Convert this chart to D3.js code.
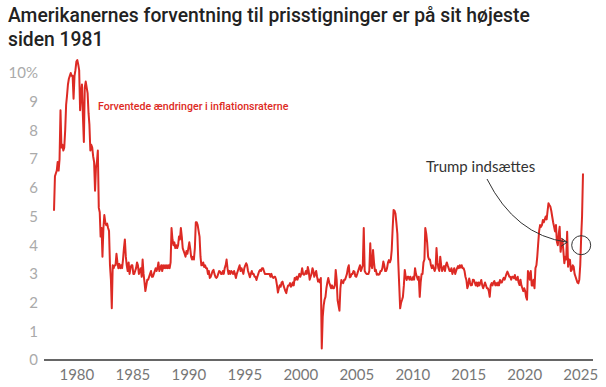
<!DOCTYPE html>
<html>
<head>
<meta charset="utf-8">
<script src="https://cdn.jsdelivr.net/npm/d3@7"></script>
<style>
  body { margin: 0; background: #fff; }
  svg { display: block; }
  .title { font-family: Roboto, sans-serif; font-weight: 500; font-size: 19.3px; fill: #222; }
  .ylab text { font-family: Lato, sans-serif; font-size: 15px; fill: #aaa; }
  .xlab text { font-family: Lato, sans-serif; font-size: 15px; fill: #777; }
</style>
</head>
<body>
<div id="main"></div>
<script>
// Forventet inflation (1 år frem), månedlige værdier fra jan. 1978
const START = new Date(1978, 0, 1);

const v1970s = [
    5.2, 6.4, 6.5, 6.6, 6.9, 6.6, 7.0, 8.7, 7.4, 7.5, 7.3, 7.4,
    8.0, 8.9, 9.2, 9.6, 9.8, 9.9, 10.0, 9.9, 9.9, 9.1, 9.9, 10.1
];
const v1980s = [
    10.4, 10.45, 10.3, 10.1, 8.7, 9.3, 9.6, 8.5, 7.6, 9.5, 9.7, 9.5,
    9.3, 8.6, 8.2, 7.3, 7.5, 7.4, 7.1, 6.9, 5.9, 6.7, 6.9, 7.3,
    5.3, 5.15, 4.3, 4.6, 3.6, 4.6, 5.05, 4.8, 4.7, 4.75, 4.6, 4.5,
    3.3, 2.8, 1.8, 3.3, 3.2, 3.3, 3.3, 3.7, 3.4, 3.2, 3.35, 3.2,
    3.3, 3.2, 3.5, 3.9, 4.2, 3.6, 3.3, 3.1, 3.4, 3.0, 3.2, 3.3,
    3.3, 3.0, 3.0, 3.1, 3.2, 3.4, 3.3, 3.0, 3.1, 3.2, 2.9, 3.5,
    3.0, 2.7, 2.4, 2.6, 2.8, 2.8, 2.9, 3.0, 3.1, 2.9, 2.9, 3.0,
    3.1, 3.2, 3.1, 3.2, 3.4, 3.1, 3.2, 3.3, 3.1, 3.3, 3.2, 3.3,
    3.2, 3.3, 3.2, 3.3, 3.2, 3.4, 4.6, 4.2, 4.0, 4.1, 3.9, 4.0,
    3.9, 4.0, 4.3, 4.2, 4.6, 4.3, 3.9, 3.8, 3.7, 3.6, 3.8, 3.7
];
const v1990s = [
    3.9, 4.1, 3.9, 3.6, 3.5, 3.6, 3.5, 3.9, 4.8, 4.8, 4.7, 4.5,
    4.3, 3.6, 3.3, 3.3, 3.4, 3.24, 3.3, 3.2, 3.2, 3.0, 3.1, 2.86,
    2.9, 3.0, 3.1, 3.14, 3.0, 2.9, 2.86, 2.9, 3.0, 3.1, 3.08, 3.0,
    3.0, 3.1, 3.0, 3.2, 3.3, 3.5, 3.2, 3.0, 3.1, 3.0, 3.1, 3.06,
    3.0, 3.1, 3.0, 2.86, 3.0, 3.1, 3.2, 3.3, 3.1, 3.2, 3.1, 3.0,
    3.2, 3.3, 3.37, 3.3, 3.1, 3.0, 2.88, 3.0, 3.1, 3.0, 3.0, 2.9,
    2.9, 2.79, 2.9, 3.0, 3.1, 3.14, 3.1, 3.2, 3.2, 3.1, 3.0, 3.0,
    3.0, 3.0, 3.0, 3.0, 2.9, 3.0, 2.9, 2.86, 2.9, 2.9, 2.8, 2.6,
    2.35, 2.5, 2.6, 2.55, 2.7, 2.73, 2.6, 2.5, 2.4, 2.33, 2.5, 2.6,
    2.6, 2.68, 2.55, 2.6, 2.7, 2.6, 2.86, 2.8, 2.9, 2.8, 2.9, 3.0
];
const v2000s = [
    2.9, 3.0, 3.2, 3.0, 2.97, 3.0, 3.1, 3.0, 3.24, 3.1, 2.8, 2.9,
    3.0, 3.2, 3.1, 2.9, 3.0, 3.1, 2.9, 2.73, 2.8, 2.7, 2.86, 0.4,
    1.5, 1.9, 2.1, 2.2, 2.5, 2.7, 2.86, 2.7, 2.6, 2.5, 2.6, 2.5,
    2.5, 2.6, 3.14, 2.8, 2.09, 1.9, 1.72, 2.5, 2.79, 2.7, 2.68, 2.8,
    2.8, 2.9, 3.0, 3.2, 3.3, 2.88, 2.9, 3.0, 3.0, 3.1, 3.08, 2.92,
    2.9, 3.0, 3.1, 3.2, 3.3, 3.1, 3.2, 3.3, 4.6, 3.1, 3.04, 3.0,
    3.0, 3.0, 3.1, 4.07, 3.3, 3.2, 3.83, 3.4, 3.1, 3.14, 2.97, 3.0,
    2.97, 3.0, 3.1, 3.1, 3.2, 3.43, 3.3, 3.1, 3.1, 3.2, 3.4, 3.48,
    3.4, 3.5, 3.83, 4.6, 5.23, 5.2, 5.1, 4.77, 4.4, 3.4, 2.6, 1.8,
    2.0, 2.1, 2.2, 2.6, 3.14, 2.9, 2.79, 2.9, 2.9, 2.8, 2.9, 2.8
];
const v2010s = [
    2.8, 2.9, 2.8, 3.2, 3.0, 2.9, 2.8, 2.9, 2.2, 2.7, 3.0, 3.0,
    3.4, 3.5, 4.6, 4.4, 4.1, 3.6, 3.5, 3.5, 3.3, 3.2, 3.3, 3.2,
    3.1, 3.2, 3.9, 3.4, 3.2, 3.1, 3.6, 3.3, 3.1, 3.2, 3.27, 3.1,
    3.3, 3.4, 3.3, 3.2, 3.1, 3.1, 3.2, 3.0, 3.1, 3.2, 3.0, 3.1,
    3.2, 3.27, 3.2, 3.3, 3.22, 3.3, 3.2, 3.2, 3.1, 2.9, 2.79, 2.5,
    2.6, 2.84, 2.7, 2.6, 2.61, 2.8, 2.79, 2.7, 2.6, 2.7, 2.57, 2.7,
    2.6, 2.7, 2.79, 2.6, 2.5, 2.6, 2.7, 2.6, 2.5, 2.5, 2.4, 2.2,
    2.6, 2.68, 2.6, 2.7, 2.75, 2.6, 2.68, 2.6, 2.7, 2.6, 2.79, 2.7,
    2.7, 2.8, 2.86, 2.8, 2.9, 3.0, 3.08, 3.0, 2.9, 2.9, 2.8, 2.9,
    2.9, 2.85, 2.96, 2.8, 2.8, 2.9, 2.7, 2.61, 2.8, 2.6, 2.5, 2.4
];
const v2020s = [
    2.5, 2.4, 2.2, 2.1, 3.1, 3.0, 2.8, 3.1, 2.6, 2.6, 2.8, 2.5,
    3.2, 3.3, 3.6, 4.07, 4.5, 4.7, 4.64, 4.7, 4.88, 4.8, 4.9, 5.0,
    4.9, 5.2, 5.46, 5.4, 5.35, 5.2, 5.0, 4.8, 4.64, 4.48, 4.7, 4.12,
    4.0, 4.4, 4.64, 3.77, 4.0, 4.2, 3.8, 3.37, 3.6, 3.5, 4.47, 3.25,
    3.5, 3.49, 3.1, 3.14, 3.3, 3.25, 3.0, 2.9, 2.8, 2.7, 2.67, 2.8,
    3.3, 4.3, 5.0, 6.5
];

const yTicks = [0, 1, 2, 3, 4, 5, 6, 7, 8, 9, 10];
const xTickYears = [1980, 1985, 1990, 1995, 2000, 2005, 2010, 2015, 2020, 2025];

const TITLE = ["Amerikanernes forventning til prisstigninger er på sit højeste", "siden 1981"];
const SERIES_LABEL = "Forventede ændringer i inflationsraterne";
const NOTE = { text: "Trump indsættes", date: new Date(2025, 1, 1), value: 4.0 };

const ctx = {
    w: 606,
    h: 387,
    RED: "#dd2a24",
    INK: "#333",
};

function buildSeries() {
    let all = [].concat(v1970s, v1980s, v1990s, v2000s, v2010s, v2020s);
    return all.map((v, i) => ({ date: d3.timeMonth.offset(START, i), value: v }));
}

function createViz() {
    let data = buildSeries();
    let svgEl = d3.select("#main").append("svg")
        .attr("width", ctx.w)
        .attr("height", ctx.h);

    let x = d3.scaleTime()
        .domain(d3.extent(data, (d) => d.date))
        .range([54, 583]);
    let y = d3.scaleLinear()
        .domain([0, 10])
        .range([360, 73]);

    // titel
    svgEl.append("text")
        .attr("class", "title")
        .selectAll("tspan")
        .data(TITLE)
        .enter()
        .append("tspan")
        .attr("x", 8)
        .attr("y", (d, i) => 22 + i * 24)
        .text((d) => d);

    // y-akse (kun tal)
    let yAxis = svgEl.append("g")
        .attr("class", "ylab")
        .attr("transform", "translate(38,0)")
        .call(d3.axisLeft(y).tickValues(yTicks).tickSize(0).tickPadding(0)
            .tickFormat((d) => d === 10 ? d + "%" : d));
    yAxis.select(".domain").remove();

    // x-akse
    let xAxis = svgEl.append("g")
        .attr("class", "xlab")
        .attr("transform", `translate(0,${y(0)})`)
        .call(d3.axisBottom(x)
            .tickValues(xTickYears.map((yr) => new Date(yr, 0, 1)))
            .tickFormat(d3.timeFormat("%Y"))
            .tickSize(0)
            .tickPadding(9));
    xAxis.select(".domain").remove();
    svgEl.append("line")
        .attr("x1", x.range()[0] - 10)
        .attr("x2", x.range()[1] + 10)
        .attr("y1", y(0))
        .attr("y2", y(0))
        .attr("stroke", ctx.INK)
        .attr("stroke-width", 1.3);

    // linjen
    let line = d3.line()
        .x((d) => x(d.date))
        .y((d) => y(d.value));
    svgEl.append("path")
        .datum(data)
        .attr("d", line)
        .attr("fill", "none")
        .attr("stroke", ctx.RED)
        .attr("stroke-width", 2)
        .attr("stroke-linejoin", "round");

    svgEl.append("text")
        .attr("x", 98)
        .attr("y", 110)
        .style("font-family", "Roboto, sans-serif")
        .style("font-size", "10.6px")
        .style("font-weight", 500)
        .style("fill", ctx.RED)
        .text(SERIES_LABEL);

    // annotation
    let cx = x(NOTE.date), cy = y(NOTE.value);
    svgEl.append("circle")
        .attr("cx", cx)
        .attr("cy", cy)
        .attr("r", 9.5)
        .attr("fill", "none")
        .attr("stroke", ctx.INK)
        .attr("stroke-width", 1);

    let ax = cx - 14, ay = cy - 3;
    svgEl.append("path")
        .attr("d", `M487,179 Q515,235 ${ax},${ay}`)
        .attr("fill", "none")
        .attr("stroke", ctx.INK)
        .attr("stroke-width", 1);
    svgEl.append("path")
        .attr("d", `M${ax - 6},${ay - 4} L${ax},${ay} L${ax - 6},${ay + 4}`)
        .attr("fill", "none")
        .attr("stroke", ctx.INK)
        .attr("stroke-width", 1);

    svgEl.append("text")
        .attr("x", 426)
        .attr("y", 172)
        .style("font-family", "Lato, sans-serif")
        .style("font-size", "15px")
        .style("fill", ctx.INK)
        .text(NOTE.text);
}

createViz();
</script>
</body>
</html>
